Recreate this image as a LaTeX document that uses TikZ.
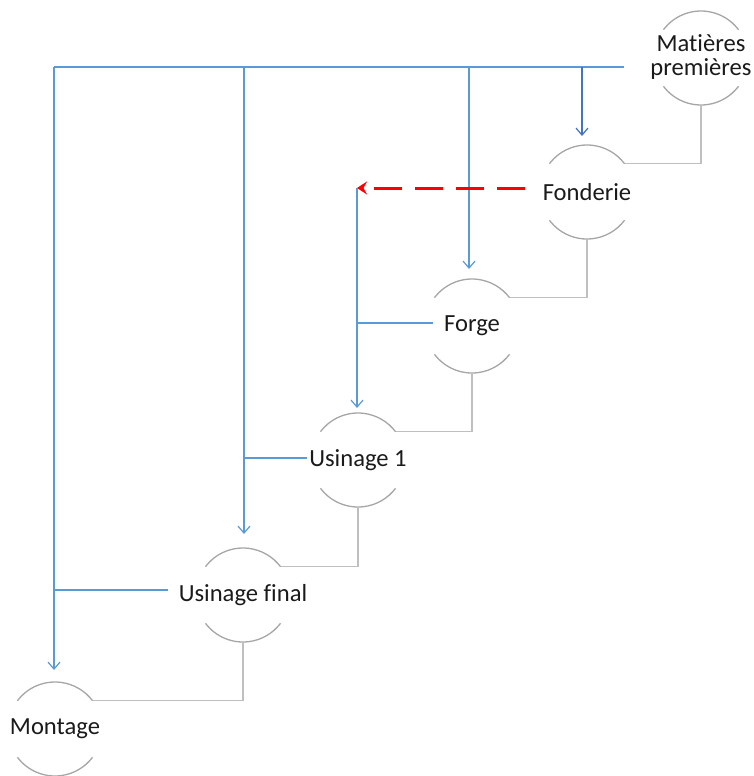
\documentclass[tikz,border=0pt]{standalone}
\usepackage{fontspec}
\setmainfont[Ligatures=NoCommon]{Carlito}
\usetikzlibrary{arrows.meta,calc}

\definecolor{flowblue}{HTML}{5B9BD5}
\definecolor{flowdark}{HTML}{4472C4}
\definecolor{arcgray}{HTML}{A6A6A6}
\definecolor{linkgray}{HTML}{BFBFBF}
\definecolor{txt}{HTML}{1A1A1A}

\tikzset{
  stage/.style={circle, minimum size=94pt, inner sep=0pt, outer sep=0pt,
    font=\fontsize{24.6}{28}\selectfont, text=txt},
  halfarc/.style={draw=arcgray, line width=1.3pt},
  link/.style={draw=linkgray, line width=1.5pt},
  flow/.style={draw=flowblue, line width=1.2pt},
  flowarrow/.style={flow, -{Straight Barb[length=7pt,width=12pt]}},
  flowdarkarrow/.style={draw=flowdark, line width=1.2pt, -{Straight Barb[length=7pt,width=12pt]}},
  backflow/.style={draw=red, line width=3pt, dash pattern=on 28pt off 13pt,
    -{Stealth[length=10pt,width=13pt,inset=3.5pt]}},
}

% top and bottom arcs of a stage circle
\newcommand{\stagearcs}[1]{%
  \draw[halfarc] (#1.143) arc[start angle=143, end angle=37, radius=47pt];
  \draw[halfarc] (#1.217) arc[start angle=217, end angle=323, radius=47pt];
}

\begin{document}
\begin{tikzpicture}[x=1pt, y=-1pt]
\useasboundingbox (0,0) rectangle (753,776);

% stages
\node[stage] (mat) at (701,58) {\makebox[0pt]{\begin{tabular}{@{}c@{}}Matières\\[-4pt]premières\end{tabular}}};
\node[stage] (fon) at (587,192) {\makebox[0pt]{Fonderie}};
\node[stage] (for) at (472,326) {\makebox[0pt]{Forge}};
\node[stage] (us1) at (358,460) {\makebox[0pt]{Usinage 1}};
\node[stage] (usf) at (243,595) {\makebox[0pt]{Usinage final}};
\node[stage] (mon) at (55,729) {\makebox[0pt]{Montage}};

\stagearcs{mat}
\stagearcs{fon}
\stagearcs{for}
\stagearcs{us1}
\stagearcs{usf}
\stagearcs{mon}

% gray chain between successive stages
\draw[link] (mat.south) |- (fon.37);
\draw[link] (fon.south) |- (for.37);
\draw[link] (for.south) |- (us1.37);
\draw[link] (us1.south) |- (usf.37);
\draw[link] (usf.south) |- (mon.37);

% arrow tips above the stages and branch starts
\coordinate (t0) at ([xshift=-77pt,yshift=-9pt]mat.center);
\coordinate (fon-in) at ([xshift=-5pt,yshift=9pt]fon.north);
\coordinate (for-in) at ([xshift=-3pt,yshift=10pt]for.north);
\coordinate (us1-in) at ([xshift=-1pt,yshift=5pt]us1.north);
\coordinate (usf-in) at ([xshift=1pt,yshift=14pt]usf.north);
\coordinate (mon-in) at ([xshift=-1pt,yshift=12pt]mon.north);
\coordinate (j1) at (357,188);
\coordinate (for-out) at ([xshift=8pt,yshift=3pt]for.west);
\coordinate (us1-out) at ([xshift=-4pt,yshift=2pt]us1.west);
\coordinate (usf-out) at ([xshift=-28pt,yshift=5pt]usf.west);

% raw material supply line
\draw[flow] (t0) -- (t0 -| mon-in);
\draw[flowdarkarrow] (t0 -| fon-in) -- (fon-in);
\draw[flowarrow] (t0 -| for-in) -- (for-in);
\draw[flowarrow] (t0 -| usf-in) -- (usf-in);
\draw[flowarrow] (t0 -| mon-in) -- (mon-in);

% foundry output, dashed
\draw[backflow] ([xshift=-15pt,yshift=4pt]fon.west) -- (j1);

% forge and foundry to machining 1
\draw[flowarrow] (j1) -- (j1 |- us1-in);
\draw[flow] (for-out) -- (for-out -| j1);

% machining 1 to final machining
\draw[flow] (us1-out) -- (us1-out -| usf-in);

% final machining to assembly
\draw[flow] (usf-out) -- (usf-out -| mon-in);
\end{tikzpicture}
\end{document}
